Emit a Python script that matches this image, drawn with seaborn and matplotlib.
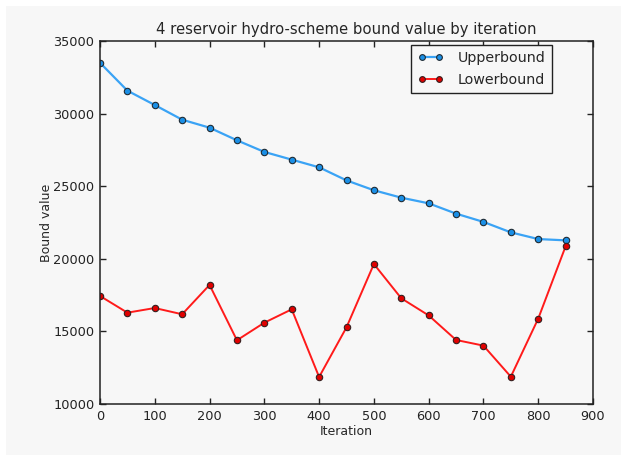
import matplotlib
matplotlib.use("Agg")
import matplotlib.pyplot as plt
from matplotlib.patches import Rectangle
import seaborn as sns
import pandas as pd

iterations = [0, 50, 100, 150, 200, 250, 300, 350, 400, 450,
              500, 550, 600, 650, 700, 750, 800, 850]
upper_bound = [33500, 31580, 30590, 29580, 29030, 28160, 27360, 26830, 26300, 25400,
               24720, 24210, 23820, 23110, 22540, 21820, 21360, 21270]
lower_bound = [17440, 16290, 16610, 16180, 18200, 14390, 15600, 16520, 11860, 15280,
               19640, 17280, 16100, 14410, 14020, 11880, 15880, 20860]

x_ticks = [0, 100, 200, 300, 400, 500, 600, 700, 800, 900]
y_ticks = [10000, 15000, 20000, 25000, 30000, 35000]

bg = "#f7f7f7"
sns.set_style("ticks")
plt.rcParams["font.family"] = ["DejaVu Sans"]

W, H = 621, 455
fig = plt.figure(figsize=(W / 100, H / 100), dpi=100, facecolor="white")
fig.patches.append(Rectangle((6 / W, 0), 1 - 6 / W, 1 - 6 / H, transform=fig.transFigure,
                             facecolor=bg, edgecolor="none", zorder=-10))
ax = fig.add_axes([100 / W, 1 - 404 / H, 493 / W, 363 / H])
ax.set_facecolor(bg)

df = pd.DataFrame({"Iteration": iterations, "upper": upper_bound, "lower": lower_bound})

sns.lineplot(data=df, x="Iteration", y="upper", ax=ax, color="#3aa3f5", linewidth=1.6,
             marker="o", markersize=4.6, markerfacecolor="#1a8fe6", markeredgecolor="#1f2a33",
             markeredgewidth=0.8, label="Upperbound")
sns.lineplot(data=df, x="Iteration", y="lower", ax=ax, color="#ff1a1a", linewidth=1.4,
             marker="o", markersize=4.6, markerfacecolor="#e00000", markeredgecolor="#331f1f",
             markeredgewidth=0.8, label="Lowerbound")

ax.set_xlim(0, 900)
ax.set_ylim(10000, 35000)
ax.set_xticks(x_ticks)
ax.set_yticks(y_ticks)
ax.tick_params(direction="in", length=4, width=1, top=True, right=True, labelsize=9.3,
               colors="#222222", pad=4)
for s in ax.spines.values():
    s.set_visible(True)
    s.set_color("#222222")
    s.set_linewidth(1.1)

ax.set_title("4 reservoir hydro-scheme bound value by iteration", fontsize=10.7, pad=5)
ax.set_xlabel("Iteration", fontsize=9, labelpad=2)
ax.set_ylabel("Bound value", fontsize=9, labelpad=0)

leg = ax.legend(loc="upper right", numpoints=2, fontsize=10.3, frameon=True, fancybox=False,
                handlelength=1.8, borderpad=0.45, labelspacing=0.5, handletextpad=1.0,
                borderaxespad=0.0, markerscale=0.9, bbox_to_anchor=(0.917, 0.989))
leg.get_frame().set_edgecolor("#222222")
leg.get_frame().set_facecolor(bg)
leg.get_frame().set_alpha(1)
leg.get_frame().set_linewidth(1.0)

fig.savefig("out.png", dpi=100, facecolor=fig.get_facecolor())
